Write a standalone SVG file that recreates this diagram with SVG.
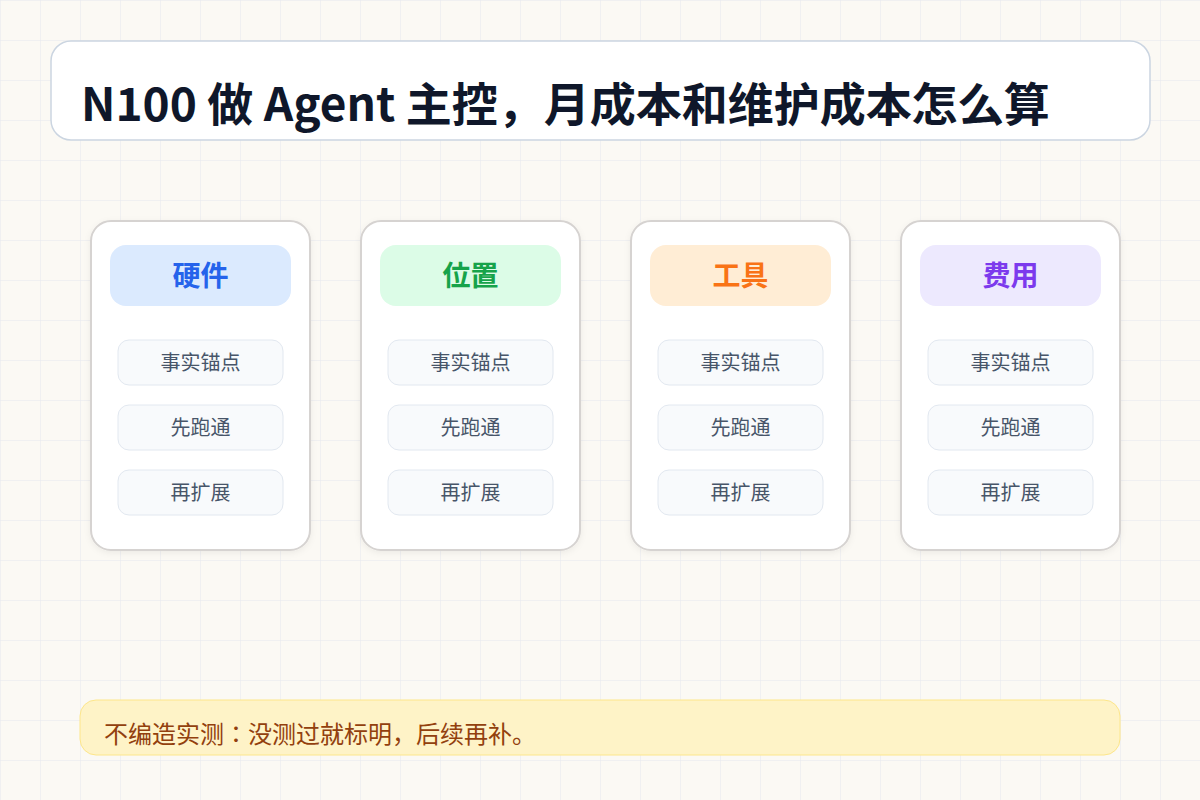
<svg xmlns="http://www.w3.org/2000/svg" width="1200" height="800" viewBox="0 0 1200 800">
<defs>
<pattern id="grid" width="40" height="40" patternUnits="userSpaceOnUse">
<path d="M40 0 L0 0 0 40" fill="none" stroke="#e5e8ee" stroke-width="1"/>
</pattern>
<filter id="sh" x="-10%" y="-10%" width="120%" height="120%">
<feDropShadow dx="0" dy="2" stdDeviation="3" flood-color="#000" flood-opacity="0.06"/>
</filter>
</defs>
<style>
text{font-family:"Noto Sans CJK JP","Noto Sans CJK SC","Noto Sans",sans-serif}
.card{fill:#ffffff;stroke:#d6d3d1;stroke-width:2}
.item{fill:#f8fafc;stroke:#e2e8f0;stroke-width:1}
.itx{font-size:20px;fill:#475569;text-anchor:middle}
.htx{font-size:28px;font-weight:700;text-anchor:middle}
</style>
<rect width="1200" height="800" fill="#fbf9f4"/>
<rect width="1200" height="800" fill="url(#grid)"/>
<g id="title">
<rect x="51" y="41" width="1099" height="99" rx="20" fill="#ffffff" stroke="#cbd5e1" stroke-width="1.5"/>
<text x="81" y="121" font-size="46" font-weight="700" fill="#0f172a">N100 做 Agent 主控，月成本和维护成本怎么算</text>
</g>
<g id="connectors"></g>
<g id="card-hw">
<rect class="card" x="91" y="221" width="219" height="329" rx="20" filter="url(#sh)"/>
<rect x="110" y="245" width="181" height="61" rx="16" fill="#dbeafe"/>
<text class="htx" x="200.5" y="286" fill="#2563eb">硬件</text>
<rect class="item" x="118" y="340" width="165" height="45" rx="11"/>
<text class="itx" x="200.5" y="370">事实锚点</text>
<rect class="item" x="118" y="405" width="165" height="45" rx="11"/>
<text class="itx" x="200.5" y="435">先跑通</text>
<rect class="item" x="118" y="470" width="165" height="45" rx="11"/>
<text class="itx" x="200.5" y="500">再扩展</text>
</g>
<g id="card-loc">
<rect class="card" x="361" y="221" width="219" height="329" rx="20" filter="url(#sh)"/>
<rect x="380" y="245" width="181" height="61" rx="16" fill="#dcfce7"/>
<text class="htx" x="470.5" y="286" fill="#16a34a">位置</text>
<rect class="item" x="388" y="340" width="165" height="45" rx="11"/>
<text class="itx" x="470.5" y="370">事实锚点</text>
<rect class="item" x="388" y="405" width="165" height="45" rx="11"/>
<text class="itx" x="470.5" y="435">先跑通</text>
<rect class="item" x="388" y="470" width="165" height="45" rx="11"/>
<text class="itx" x="470.5" y="500">再扩展</text>
</g>
<g id="card-tool">
<rect class="card" x="631" y="221" width="219" height="329" rx="20" filter="url(#sh)"/>
<rect x="650" y="245" width="181" height="61" rx="16" fill="#ffedd5"/>
<text class="htx" x="740.5" y="286" fill="#f97316">工具</text>
<rect class="item" x="658" y="340" width="165" height="45" rx="11"/>
<text class="itx" x="740.5" y="370">事实锚点</text>
<rect class="item" x="658" y="405" width="165" height="45" rx="11"/>
<text class="itx" x="740.5" y="435">先跑通</text>
<rect class="item" x="658" y="470" width="165" height="45" rx="11"/>
<text class="itx" x="740.5" y="500">再扩展</text>
</g>
<g id="card-cost">
<rect class="card" x="901" y="221" width="219" height="329" rx="20" filter="url(#sh)"/>
<rect x="920" y="245" width="181" height="61" rx="16" fill="#ede9fe"/>
<text class="htx" x="1010.5" y="286" fill="#7c3aed">费用</text>
<rect class="item" x="928" y="340" width="165" height="45" rx="11"/>
<text class="itx" x="1010.5" y="370">事实锚点</text>
<rect class="item" x="928" y="405" width="165" height="45" rx="11"/>
<text class="itx" x="1010.5" y="435">先跑通</text>
<rect class="item" x="928" y="470" width="165" height="45" rx="11"/>
<text class="itx" x="1010.5" y="500">再扩展</text>
</g>
<g id="footer">
<rect x="80" y="700" width="1040" height="55" rx="16" fill="#fef3c7" stroke="#fde68a" stroke-width="1"/>
<text x="104" y="743" font-size="24" fill="#92400e">不编造实测：没测过就标明，后续再补。</text>
</g>
</svg>
